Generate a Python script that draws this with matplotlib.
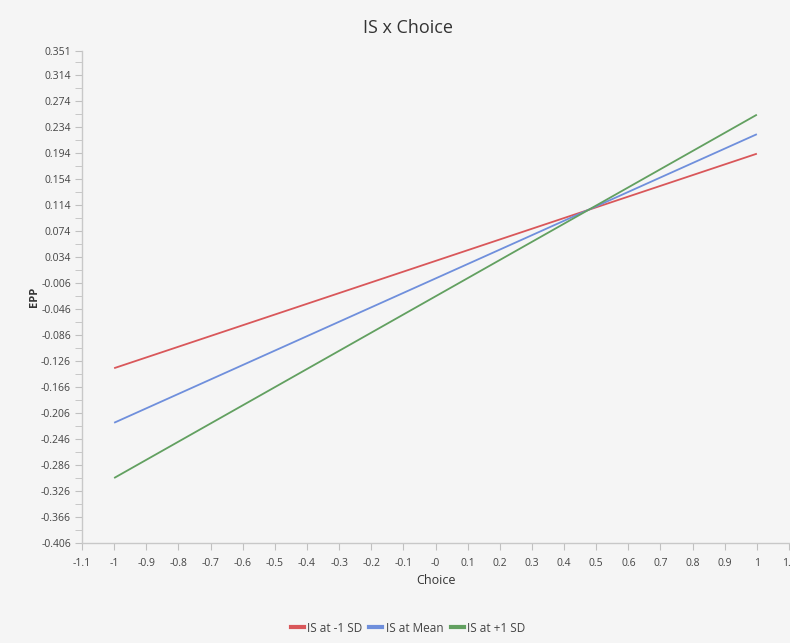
import numpy as np
import matplotlib
matplotlib.use("Agg")
import matplotlib.pyplot as plt
from matplotlib.lines import Line2D

# values
choice = [-1.0, 1.0]
is_low = [-0.137, 0.193]
is_mean = [-0.221, 0.223]
is_high = [-0.306, 0.253]
series_names = ["IS at -1 SD", "IS at Mean", "IS at +1 SD"]
colors = ["#d9575a", "#6f8fdc", "#62a060"]

y_ticks = [0.351] + [round(0.314 - 0.04 * i, 3) for i in range(19)]
y_minor = [round(0.334 - 0.04 * i, 3) for i in range(19)]
x_ticks = [round(-1.1 + 0.1 * i, 1) for i in range(23)]
x_labels = ["-1.1", "-1", "-0.9", "-0.8", "-0.7", "-0.6", "-0.5", "-0.4", "-0.3",
            "-0.2", "-0.1", "-0", "0.1", "0.2", "0.3", "0.4", "0.5", "0.6", "0.7",
            "0.8", "0.9", "1", "1.1"]

plt.rcParams["font.family"] = ["Open Sans", "DejaVu Sans"]
bg = "#f5f5f5"
fig = plt.figure(figsize=(7.9, 6.43), dpi=100, facecolor=bg)
ax = fig.add_axes([82 / 790, 1 - 543 / 643, (789 - 82) / 790, (543 - 51) / 643])
ax.set_facecolor(bg)

for ys, c in zip([is_low, is_mean, is_high], colors):
    ax.plot(choice, ys, color=c, lw=1.3, solid_capstyle="butt")

ax.set_xlim(-1.1, 1.1)
ax.set_ylim(-0.406, 0.351)
ax.set_xticks(x_ticks)
ax.set_xticklabels(x_labels)
ax.set_yticks(y_ticks)
ax.set_yticklabels([f"{v:.3f}" for v in y_ticks])
ax.set_yticks(y_minor, minor=True)

for s in ["top", "right"]:
    ax.spines[s].set_visible(False)
for s in ["left", "bottom"]:
    ax.spines[s].set_color("#c8c8c8")
    ax.spines[s].set_linewidth(1.0)

ax.tick_params(axis="both", which="major", length=5, color="#c0c0c0",
               labelsize=7.5, labelcolor="#444444", pad=3)
ax.tick_params(axis="y", which="minor", length=5, color="#c0c0c0")
ax.tick_params(axis="x", pad=6)

fig.text(436 / 790, 1 - 580 / 643, "Choice", ha="center", va="center",
         fontsize=9, color="#333333")
fig.text(35 / 790, 1 - 297 / 643, "EPP", ha="center", va="center",
         rotation=90, fontsize=8, fontweight="bold", color="#333333")
fig.text(408 / 790, 1 - 28 / 643, "IS x Choice", ha="center", va="center",
         fontsize=13, color="#333333")

handles = [Line2D([0], [0], color=c, lw=3) for c in colors]
fig.legend(handles, series_names, loc="center", bbox_to_anchor=(408 / 790, 1 - 628 / 643),
           ncol=3, frameon=False, fontsize=8.5, handlelength=1.1, handletextpad=0.3,
           columnspacing=0.6, labelcolor="#444444")

fig.savefig("out.png", dpi=100, facecolor=bg)
